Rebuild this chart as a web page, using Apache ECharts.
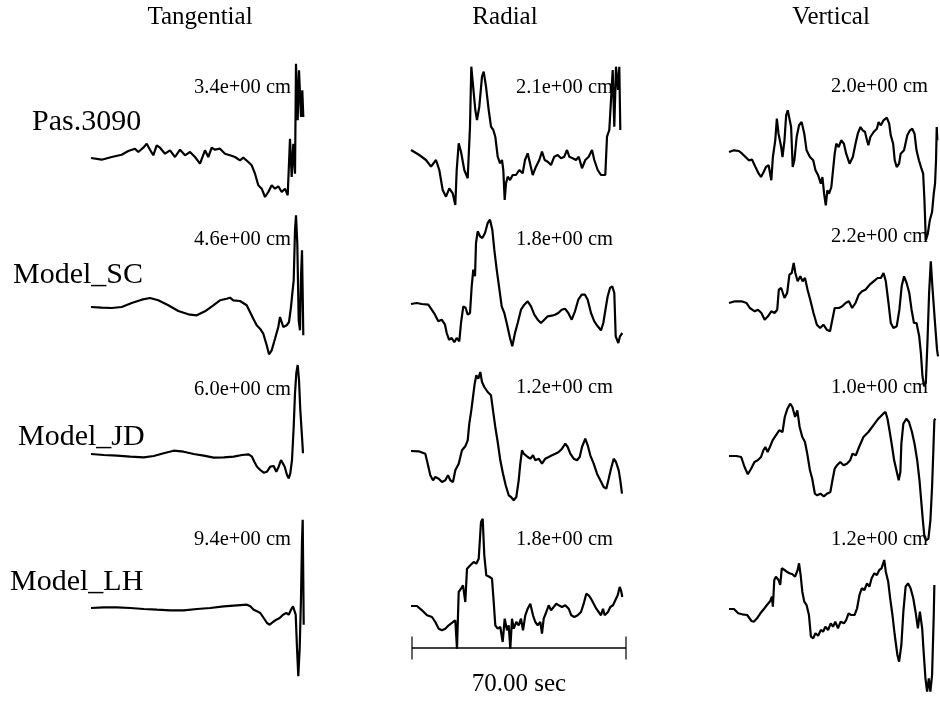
<!DOCTYPE html>
<html>
<head>
<meta charset="utf-8">
<script src="https://cdn.jsdelivr.net/npm/echarts@6/dist/echarts.min.js"></script>
<style>
  html, body { margin: 0; background: #fff; }
  #chart { width: 940px; height: 720px; }
</style>
</head>
<body>
<div id="chart"></div>
<script>
// component names (columns) and stations / models (rows)
const components = ['Tangential', 'Radial', 'Vertical'];
const stations = ['Pas.3090', 'Model_SC', 'Model_JD', 'Model_LH'];

// peak amplitude labels, one array per row
const peaksPas = ['3.4e+00 cm', '2.1e+00 cm', '2.0e+00 cm'];
const peaksSC = ['4.6e+00 cm', '1.8e+00 cm', '2.2e+00 cm'];
const peaksJD = ['6.0e+00 cm', '1.2e+00 cm', '1.0e+00 cm'];
const peaksLH = ['9.4e+00 cm', '1.8e+00 cm', '1.2e+00 cm'];

// time scale bar (sec)
const scaleBar = [[0, 0], [70, 0]];
const scaleLabel = '70.00 sec';

// traces: [sample, relative amplitude]  (214 samples = 70 sec)
const tanPas = [[0,0],[10.7,-1.7],[20.7,1],[30.7,3.3],[37.3,7],[44,9.3],[47.3,6],[52.3,10.3],[55.7,14.3],[59,8.3],[62.3,2.7],[65.7,12.7],[69,10.3],[74,4.3],[79,7.7],[84,1],[89,8.3],[94,2.7],[99,6],[104,1],[109,-5.7],[114,7.7],[117.3,1],[120.7,10.3],[124,8.3],[129,9.3],[134,4.3],[139,2.7],[144,1],[149,-2.3],[152.3,0.3],[157.3,-4],[160.7,-7.3],[164,-15.7],[167.3,-27.3],[170.7,-30.7],[174,-39],[177.3,-34],[180.7,-27.3],[184,-30.7],[187.3,-28.3],[190.7,-34],[194,-30.7],[196.7,-37.3],[199,19.3],[200.7,-19],[202.3,14.3],[204,-15.7],[205,94.3],[206.7,37.7],[208,87.7],[210,41],[211.3,67.7],[212.3,41]];
const radPas = [[0,0],[8.3,-5],[15,-10],[20,-16.7],[25,-10],[28.3,-20],[31.7,-40],[35,-46.7],[38.3,-38.3],[41.7,-43.3],[44.3,-55],[45.7,-20],[47.7,6.7],[50,-1.7],[53.3,-20],[56.7,-28.3],[59,23.3],[60.3,83.3],[61.7,81.7],[64.3,40],[66,30],[68.3,43.3],[71,73.3],[72.7,78.3],[75,63.3],[77.7,40],[80,23.3],[82.3,20],[84.3,13.3],[86.7,-6.7],[89,-13.3],[91,-10],[92.3,-20],[93.7,-50],[95,-33.3],[96.7,-26.7],[99,-30],[101.7,-25],[105,-25],[108.3,-20],[111.7,-23.3],[114,-10],[116.7,-3.3],[119,-13.3],[121.7,-25],[125,-16.7],[128.3,-10],[131,-1.7],[133.7,-10],[136.7,-11.7],[140,-15],[143.3,-6.7],[146.7,-5],[150,-8.3],[153.3,-6.7],[156,0],[158.3,-6.7],[161.7,-8.3],[165,-10],[167.7,-6.7],[171,-18.3],[174.3,-10],[177.7,-6.7],[181,0],[183.3,-10],[186.7,-20],[190,-25],[194.3,-25],[196,13.3],[198.3,20],[200,50],[201.7,80],[203.3,23.3],[205,83.3],[207,60],[208.3,83.3],[209.3,20]];
const verPas = [[0,0],[5,1.7],[10,1],[13.3,-1.7],[16.7,-5],[20,-8.3],[23.3,-7.7],[26.7,-15],[30,-21.7],[32.3,-25],[35,-20],[37.3,-15],[40,-13.3],[42.7,-28.3],[44.3,-5],[46.7,11.7],[48.3,33.3],[50,18.3],[52.7,5],[54,-5],[56,11.7],[57.7,36.7],[59.3,41.7],[61,43.3],[62.7,25],[64.3,-15],[66,-8.3],[68.3,15],[70.7,26.7],[73.3,30],[76,18.3],[78.3,1.7],[81.7,-5],[85,-8.3],[87.3,-18.3],[90,-23.3],[92.7,-31.7],[94.3,-25],[96,-41.7],[97.7,-53.3],[99.3,-38.3],[101,-41.7],[103.3,-35],[105,-18.3],[106.7,-1.7],[108.3,8.3],[110.7,5],[113.3,11.7],[116,8.3],[118.3,-1.7],[121.7,-11.7],[125,-5],[127.7,8.3],[130,18.3],[132.7,25],[135,21.7],[137.3,20],[139.3,11.7],[140.7,6.7],[142.7,15],[146,20],[149.3,23.3],[151,30],[153.3,26.7],[156,31.7],[159.3,34.3],[161.7,28.3],[163.3,16.7],[165.7,8.3],[167.3,-8.3],[169.3,-15],[171.7,-11.7],[173.3,-1.7],[176.7,1.7],[180,16.7],[182.7,21.7],[185,23.3],[187.3,18.3],[189.3,1.7],[191.7,-8.3],[194.3,-16.7],[196,-21.7],[197.3,-48.3],[198.7,-88.3],[200.7,-81.7],[202.7,-68.3],[205,-60],[206.7,-41.7],[208,-31.7],[209,-8.3],[209.7,25],[210.3,11.7]];

const tanSC = [[0,0],[10.7,-0.7],[20.7,-1],[30.7,0],[40.7,4],[50.7,7.3],[59,9],[67.3,6.7],[77.3,1.7],[87.3,-4],[97.3,-7.3],[105.7,-8.3],[114,-4.3],[122.3,1.7],[129,6.7],[135.7,8.3],[139,9.3],[142.3,6.7],[149,6],[155.7,1.7],[159,-5],[162.3,-11.7],[165.7,-18.3],[169,-21.7],[172.3,-26.7],[175.7,-38.3],[178,-47.3],[180.7,-43.3],[184,-31.7],[187.3,-20],[189,-10],[190.7,-8.3],[192.3,-20],[194,-21.7],[195.7,-18.3],[198,-15],[200,0],[201.3,13.3],[202.7,26.7],[204,76.7],[205,91.7],[206.3,63.3],[207.7,-13.3],[209,-23.3],[210,30],[211,56.7],[211.7,13.3],[212.3,-28.3]];
const radSC = [[0,0],[5.7,1],[10.7,0],[17.3,-0.7],[20.7,-5.7],[24,-10.7],[27.3,-17.3],[30.7,-15.7],[34,-20.7],[35.7,-29],[38,-35.7],[40.7,-34],[43.3,-38.3],[45.7,-34],[48.3,-37.3],[50,-19],[52.3,-2.3],[54.7,-4],[56.7,-10.7],[59,-9],[60.7,17.7],[62.3,34.3],[64,27.7],[65,61],[66.7,72.7],[69,67.7],[71.3,66],[74,71],[76.7,81],[79,84.3],[81.3,74.3],[83.3,54.3],[85.7,34.3],[88,17.7],[90.7,-2.3],[93.3,-9],[95.7,-19],[99,-34],[101.3,-42.3],[104,-29],[106.7,-19],[110,-5.7],[113.3,-0.7],[116.7,2.7],[120,-2.3],[123.3,-10.7],[126.7,-15.7],[130,-19],[133.3,-15.7],[136.7,-12.3],[140.7,-11.7],[144,-10.7],[147.3,-9],[150.7,-5.7],[154,-4.7],[157.3,-9],[160.7,-15.7],[164,-7.3],[167.3,4.3],[170.7,9.3],[174,9.3],[176.7,4.3],[180,-9],[183.3,-17.3],[186.7,-22.3],[190,-26.3],[192.3,-19],[195,-2.3],[196.7,7.7],[199,16],[201.3,17.7],[203.3,11],[204.7,-32.3],[207.3,-39],[209,-32.3],[211.3,-29]];
const verSC = [[0,0],[6,1.7],[12.7,1.7],[17.7,0],[21,-5],[26,-8.3],[29.3,-6.7],[32.7,-10],[36,-16.7],[39.3,-13.3],[42.7,-8.3],[46,-10],[48.7,-6.7],[50.3,13.3],[52.7,15],[56,5],[58.7,10],[61,28.3],[63.3,30],[65.3,40],[67,30],[69.3,21.7],[72,26.7],[74.3,21.7],[76.7,25],[79.3,13.3],[82,3.3],[85.3,-10],[88.7,-21.7],[92,-25],[95.3,-21.7],[98.7,-26.7],[102,-28.3],[104.3,-16.7],[106.7,-5],[108.7,-3.3],[111,-5],[114.3,-3.3],[117.7,0],[121,1.7],[124.3,-5],[127.7,0],[131,8.3],[134.3,11.7],[137.7,13.3],[142,18.3],[146,21.7],[150,25],[153.3,25],[156,30],[158.3,21.7],[161,0],[163.3,-20],[166,-25],[169.3,-23.3],[172,-6.7],[174.3,16.7],[176.7,26.7],[179.3,20],[182,10],[184.3,-6.7],[186.7,-20],[189.3,-20],[192,-33.3],[193.7,-50],[195.3,-73.3],[197,-83.3],[198.7,-80],[200.3,-40],[202,10],[203.7,41.7],[205.3,16.7],[207.7,-16.7],[210,-46.7],[211,-53.3]];

const tanJD = [[0,0],[12.7,-1],[26,-1.7],[39.3,-2.7],[52.7,-3.3],[62.7,-2],[72.7,0.7],[82.7,3.3],[92.7,2.3],[102.7,0],[112.7,-1.7],[122.7,-3.7],[132.7,-3.3],[142.7,-2.7],[151,-1],[157.7,-0.3],[161,-2.7],[163.3,-7.7],[166,-12.7],[169.3,-16],[172.7,-18.7],[176,-17.7],[179.3,-12.7],[182.7,-12],[185.3,-17.7],[187.7,-12.7],[190,-6],[192,-5.3],[193.7,-12.7],[196,-21],[197.7,-24.3],[199.3,-19.3],[201,-6],[202.7,27.3],[204,60.7],[205.3,80.7],[206.7,89],[208,74],[209.3,44],[211,17.3],[212,0.7]];
const radJD = [[0,0],[7.7,-0.3],[14.3,-2.7],[16.7,-12.7],[19.3,-24.3],[22,-29.3],[24.3,-26],[27.7,-27.7],[31,-31],[34.3,-29.3],[37,-24.3],[39.3,-29.3],[42,-31],[44.3,-19.3],[47.7,-12.7],[51,0.7],[54.3,4.7],[56.7,10.7],[58.3,27.3],[60.3,40.7],[62,54],[63.7,67.3],[65.3,75.7],[67.3,72.3],[69.3,79],[71,69],[73.3,64],[76.7,59],[80,55.7],[82,40.7],[84.3,24],[86.7,9],[89.3,-9.3],[92,-22.7],[94.7,-34.3],[97.7,-44.3],[100,-46],[102.7,-49.3],[105.3,-46],[107.7,-29.3],[109.3,-12.7],[111,0.7],[112.7,-2.7],[114.3,-1],[116.7,-6],[119.3,-7.7],[122,-4.3],[124.3,-9.3],[127.7,-7.7],[131,-12.7],[134.3,-7.7],[137.7,-6],[141,-4.3],[144.3,-2.7],[147.7,-1],[151,2.3],[154.3,7.3],[156.7,4],[159.3,-2.7],[162.7,-7.7],[166,-9.3],[168.7,-6],[171,4],[174.3,12.3],[176.7,5.7],[179.3,-4.3],[182.7,-12.7],[186,-22.7],[189.3,-29.3],[192.7,-36],[195.3,-37.7],[197.7,-27.7],[200,-17.7],[202.7,-7.7],[205,-11],[207.7,-19.3],[209.3,-29.3],[211,-42.7]];
const verJD = [[0,0],[7.3,0],[12.3,-1],[15.7,-11],[19,-18.3],[22.3,-12.7],[25.7,-6],[29,-4.3],[32.3,-1],[34.7,5.7],[36.7,9],[39,4],[41.3,9],[44,15.7],[47.3,20.7],[50.7,25.7],[54,24],[56.3,39],[59,47.3],[61.7,52.3],[64,49],[66.7,39],[69,45.7],[71.3,29],[74,19],[76.7,14],[79,2.3],[81.7,-14.3],[84,-22.7],[86.7,-37.7],[89,-39.3],[92.3,-37.7],[95.7,-40.3],[99,-37.7],[102.3,-36],[104.7,-22.7],[106.7,-12.7],[109,-9.3],[112.3,-6],[115.7,-9.3],[119,-7.7],[122.3,-4.3],[124.7,2.3],[128,0.7],[131.3,9],[135.7,19],[140.7,24],[145.7,30.7],[150.7,37.3],[155.7,42.3],[158,44],[160,37.3],[162.3,24],[164.7,9],[166.7,-4.3],[169,-14.3],[171.3,-24.3],[173,-16],[174,12.3],[176,32.3],[179,37.3],[181.7,34],[184.7,24],[187.3,12.3],[190,-4.3],[192.3,-24.3],[194,-44.3],[195.7,-64.3],[197.3,-81],[199,-84.3],[201.3,-82.7],[203.3,-64.3],[205,-31],[206.3,5.7],[207.3,35.7],[208.3,37.3]];

const tanLH = [[0,0],[12.7,0.7],[26,0.7],[39.3,0],[52.7,-1],[66,-1.7],[79.3,-2.3],[92.7,-2.3],[106,-1],[119.3,0],[132.7,1.7],[146,2.7],[156,3.3],[159.3,1.7],[162.7,-1.7],[166,-3.3],[169.3,-5],[172.7,-10],[176,-15],[178.7,-16.7],[182,-14],[185.3,-11.7],[188.7,-10],[192,-6.7],[195.3,-5],[197.7,-6.7],[200,-1.7],[202,1.7],[203.3,2.7],[204.7,-6.7],[206,-40],[207.3,-68.3],[208.7,-40],[210,10],[211,66.7],[211.7,88.3],[212.3,26.7],[212.7,-16.7]];
const radLH = [[0,0],[6,0],[11,-4.3],[16,-9.3],[21,-11],[24.3,-16],[27.7,-22.7],[31,-24.3],[34.3,-22.7],[37.7,-19.3],[42,-16],[44.3,-14.3],[46,-42.7],[47.7,14],[50,17.3],[52,20.7],[54.3,4],[56,37.3],[59.3,40.7],[62.7,44],[65.3,42.3],[67.7,47.3],[70,84],[71.7,87.3],[73.3,50.7],[75.3,30.7],[78.7,29],[81,27.3],[82.7,4],[84.3,-19.3],[86.7,-22.7],[89.3,-21],[91.7,-36],[93.7,-12.7],[96,-24.3],[97.7,-19.3],[99.3,-42.7],[101,-12.7],[102.7,-22.7],[105.3,-16],[107.7,-19.3],[110,-12.7],[112,-24.3],[114.3,-9.3],[116.7,-2.7],[119.3,2.3],[122,-9.3],[124.3,-16],[126.7,-19.3],[129.3,-16],[131,-27.7],[132.7,-12.7],[135.3,-6],[137.7,0.7],[140,-4.3],[142.7,-1],[145.3,2.3],[147.7,0.7],[151,-1],[154.3,0.7],[157.7,-2.7],[160.3,-9.3],[163.3,-11],[166.7,-9.3],[170,-6],[172.7,2.3],[175.3,12.3],[177.7,10.7],[180,7.3],[182.7,2.3],[185.3,-2.7],[187.7,-6],[190,-9.3],[192,-2.7],[193.7,-9.3],[195.3,-11],[197,-6],[199.3,-1],[202,0.7],[204.3,5.7],[206.7,10.7],[208.7,19],[210,15.7],[211.3,9]];
const verLH = [[0,0],[5,0],[9.3,-4.3],[13.3,-5.3],[18.3,-6],[22.7,-12],[25,-12.7],[28.3,-9.3],[31.7,-4.3],[35,-0.3],[38.3,4],[41.7,8],[43.3,12.3],[44.3,2.3],[45.7,29],[47.3,32.3],[50,29],[51.7,24],[53.3,40.7],[56,39],[58.3,37.3],[61,35.7],[64,34.7],[66.7,32.3],[69.3,39],[70.7,45.7],[72.3,34],[74,17.3],[76,7.3],[78.3,4],[80.7,-6],[82.7,-27.7],[85,-29.3],[87.3,-24.3],[90,-26.7],[92.7,-21],[95,-22.7],[97.3,-17.7],[100,-21],[102.7,-14.3],[105,-17.7],[107.3,-12.7],[110,-19.3],[112.7,-12.7],[116,-14.3],[118.3,-11],[120.7,-4.3],[123.3,-6],[126.7,-6],[129.3,0.7],[131.7,14],[134,20.7],[136.7,19],[139.3,25.7],[141.7,22.3],[144,30.7],[146.7,35.7],[149.3,34],[151.7,39],[154,40.7],[156.7,49],[158.3,37.3],[160.7,27.3],[162.7,10.7],[165,-6],[167.3,-26],[170,-46],[171.7,-52.7],[174,-36],[176,-2.7],[178.3,22.3],[180.7,25.7],[183.3,20.7],[186,10.7],[188.3,-2.7],[190.7,-19.3],[192.7,-2.7],[195,-19.3],[196.7,-46],[198.3,-69.3],[200,-82.7],[201.7,-69.3],[203.3,-82.7],[205,-66],[206.7,-6],[207.3,24]];

const traces = [
  [tanPas, radPas, verPas],
  [tanSC, radSC, verSC],
  [tanJD, radJD, verJD],
  [tanLH, radLH, verLH]
];
const peaks = [peaksPas, peaksSC, peaksJD, peaksLH];

// layout (pixels)
const colLeft = [91, 411, 729];
const rowBase = [[158, 150, 152], [307, 304, 303], [454, 451, 456], [608, 606, 609]];
const peakRight = [291, 613, 928];
const peakY = [[88, 88, 87], [240, 240, 237], [390, 388, 388], [540, 540, 540]];
const stationPos = [[32, 122], [13, 275], [18, 437], [10, 582]];
const headerX = [200, 505, 831];

const serif = '"Liberation Serif", "DejaVu Serif", serif';

const chart = echarts.init(document.getElementById('chart'));

let grid = [], xAxis = [], yAxis = [], series = [], texts = [];

function label(x, y, text, size, align) {
  return {
    type: 'text', x: x, y: y, silent: true,
    style: { text: text, font: size + 'px ' + serif, fill: '#000', textAlign: align, textVerticalAlign: 'middle' }
  };
}

traces.forEach((row, i) => {
  row.forEach((tr, j) => {
    const k = grid.length;
    grid.push({ left: colLeft[j], top: rowBase[i][j] - 100, width: 213, height: 200 });
    xAxis.push({ type: 'value', gridIndex: k, min: 0, max: 213, show: false });
    yAxis.push({ type: 'value', gridIndex: k, min: -100, max: 100, show: false });
    series.push({
      type: 'line', xAxisIndex: k, yAxisIndex: k, data: tr,
      showSymbol: false, clip: false, silent: true,
      lineStyle: { color: '#000', width: 2.2 }
    });
    texts.push(label(peakRight[j], peakY[i][j], peaks[i][j], 20.5, 'right'));
  });
});

// scale bar
const sb = grid.length;
grid.push({ left: 412, top: 638, width: 214, height: 20 });
xAxis.push({ type: 'value', gridIndex: sb, min: 0, max: 70, show: false });
yAxis.push({ type: 'value', gridIndex: sb, min: -1, max: 1, show: false });
series.push({
  type: 'line', xAxisIndex: sb, yAxisIndex: sb, data: scaleBar,
  showSymbol: false, silent: true, lineStyle: { color: '#000', width: 1.5 }
});
series.push({
  type: 'scatter', xAxisIndex: sb, yAxisIndex: sb, data: scaleBar, silent: true,
  symbol: 'rect', symbolSize: [1.5, 23], itemStyle: { color: '#000' }
});
texts.push(label(519, 684, scaleLabel, 25, 'center'));

components.forEach((c, j) => texts.push(label(headerX[j], 17, c, 25, 'center')));
stations.forEach((s, i) => texts.push(label(stationPos[i][0], stationPos[i][1], s, 30, 'left')));

chart.setOption({
  animation: false,
  backgroundColor: '#fff',
  grid, xAxis, yAxis, series,
  graphic: texts
});
</script>
</body>
</html>
